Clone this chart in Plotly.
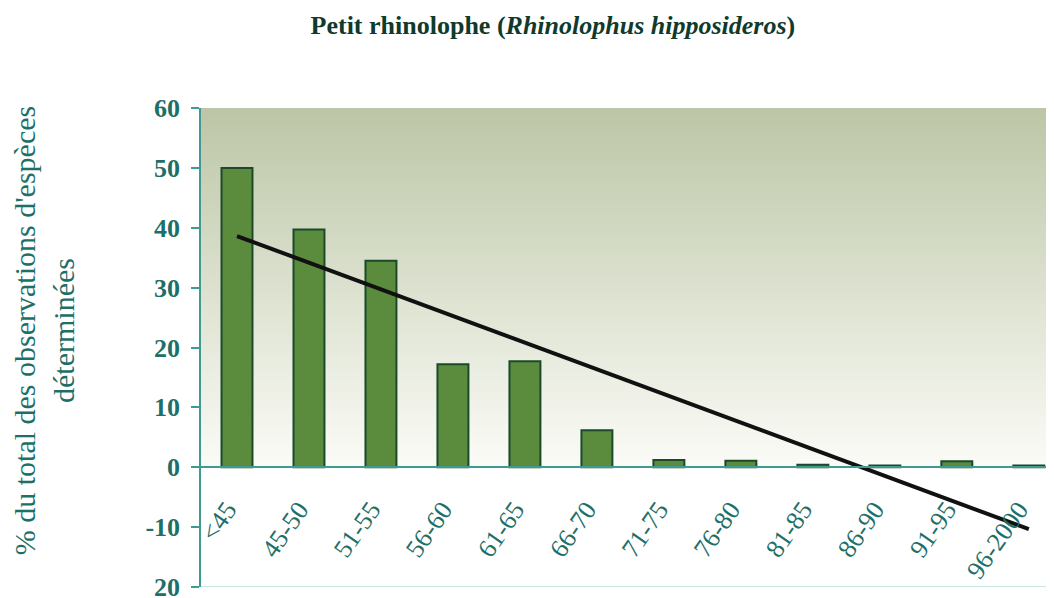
import numpy as np
import plotly.graph_objects as go

categories = ["<45", "45-50", "51-55", "56-60", "61-65", "66-70",
              "71-75", "76-80", "81-85", "86-90", "91-95", "96-2000"]
values = [50.0, 39.7, 34.5, 17.2, 17.7, 6.2, 1.2, 1.1, 0.4, 0.3, 1.0, 0.3]
y_tickvals = [-20, -10, 0, 10, 20, 30, 40, 50, 60]
y_ticktext = ["20", "-10", "0", "10", "20", "30", "40", "50", "60"]

idx = np.arange(len(categories))
slope, intercept = np.polyfit(idx, values, 1)
trend = slope * idx + intercept

X_RANGE = [-0.5, 11.35]
Y_RANGE = [-20, 60]
TEAL = "#3f9a92"
LABEL = "#1d6f68"
SERIF = "Liberation Serif, Times New Roman, serif"

fig = go.Figure()

# gradient background (heatmap layer sits below bars), from 0 to the top of the axis
bg_edges = np.linspace(0, Y_RANGE[1], 61)
bg_centers = (bg_edges[:-1] + bg_edges[1:]) / 2
fig.add_trace(go.Heatmap(
    x=X_RANGE, y=bg_edges, z=[[c] for c in bg_centers],
    colorscale=[[0, "#fbfbf7"], [0.45, "#dfe4d3"], [1, "#bcc6a6"]],
    zmin=0, zmax=Y_RANGE[1], showscale=False, hoverinfo="skip", zsmooth="best",
))

fig.add_trace(go.Bar(
    x=idx, y=values, width=0.43,
    marker=dict(color="#5b8b3d", line=dict(color="#1b4a2b", width=2)),
    showlegend=False,
))

fig.add_trace(go.Scatter(
    x=[idx[0], idx[-1]], y=[trend[0], trend[-1]], mode="lines",
    line=dict(color="#111111", width=4), showlegend=False,
))

fig.update_layout(
    width=1054, height=598,
    margin=dict(l=193, r=8, t=100, b=19, autoexpand=False),
    paper_bgcolor="white", plot_bgcolor="white",
    title=dict(text="<b>Petit rhinolophe (<i>Rhinolophus hipposideros</i>)</b>",
               x=0.517, xanchor="center", y=0.9716, yanchor="middle",
               font=dict(family=SERIF, size=26, color="#0f3a2c")),
    xaxis=dict(
        range=X_RANGE, tickmode="array", tickvals=list(idx), ticktext=categories,
        tickangle=-55, ticks="", showgrid=False, zeroline=False,
        showline=True, linecolor=TEAL, linewidth=1.5, automargin=False,
        anchor="free", position=0.25, ticklabelstandoff=16, ticklabelshift=-10,
        tickfont=dict(family=SERIF, size=26, color=LABEL),
    ),
    xaxis2=dict(
        range=X_RANGE, overlaying="x", anchor="free", position=0.25,
        tickmode="array", tickvals=[i + 0.5 for i in idx[:-1]],
        ticks="outside", ticklen=7, tickcolor=TEAL, tickwidth=1.5, automargin=False,
        showticklabels=False, showgrid=False, zeroline=False, showline=False,
    ),
    yaxis=dict(
        range=Y_RANGE, tickmode="array", tickvals=y_tickvals, ticktext=y_ticktext,
        ticks="outside", ticklen=8, tickcolor=TEAL, tickwidth=1.5, automargin=False,
        showline=True, linecolor=TEAL, linewidth=1.5, showgrid=False, zeroline=False,
        ticklabelstandoff=6,
        tickfont=dict(family=SERIF, size=26, color=LABEL, weight="bold"),
    ),
    shapes=[dict(type="line", xref="x domain", yref="y", x0=0, x1=1,
                 y0=Y_RANGE[0], y1=Y_RANGE[0], line=dict(color="#b8dcd6", width=1.5))],
    annotations=[dict(
        text="% du total des observations d'espèces<br>déterminées",
        xref="paper", yref="paper", x=-0.184, y=0.534,
        xanchor="center", yanchor="middle", textangle=-90, showarrow=False,
        font=dict(family=SERIF, size=30, color=LABEL),
    )],
)

fig.write_html("out.html")
